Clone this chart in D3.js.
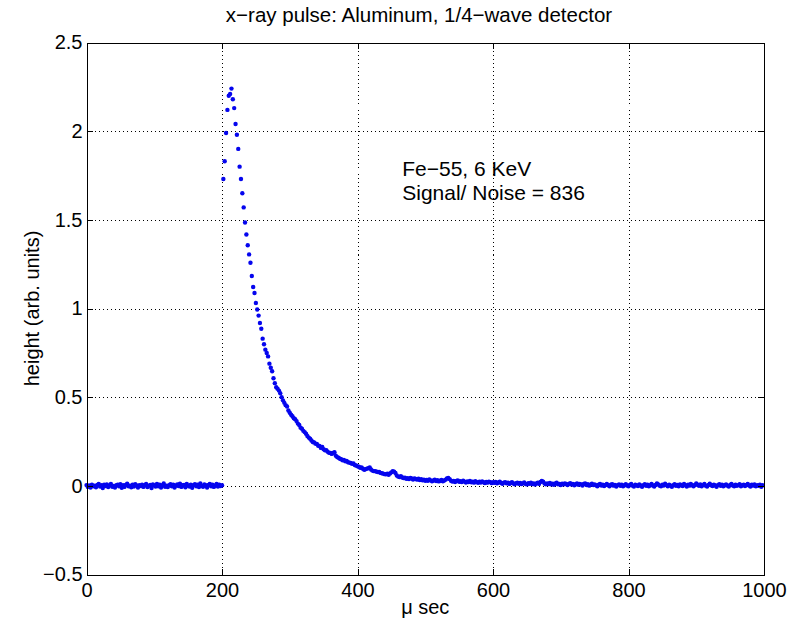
<!DOCTYPE html>
<html>
<head>
<meta charset="utf-8">
<script src="https://cdn.jsdelivr.net/npm/d3@7"></script>
<style>
  html, body { margin: 0; padding: 0; background: #ffffff; }
  svg { display: block; }
  text { font-family: "Liberation Sans", Arial, Helvetica, sans-serif; fill: #000; }
</style>
</head>
<body>
<svg id="chart" width="791" height="625"></svg>
<script>
// ---------------- data ----------------
const titleText = "x\u2212ray pulse: Aluminum, 1/4\u2212wave detector";
const xLabel = "\u03bc sec";
const yLabel = "height (arb. units)";
const noteLines = ["Fe\u221255, 6 KeV", "Signal/ Noise = 836"];

const xTicks = [0, 200, 400, 600, 800, 1000];
const yTicks = [-0.5, 0, 0.5, 1, 1.5, 2, 2.5];

const sampleStep = 2;                     // µs between samples
const segmentStarts = [0, 202, 234, 502]; // µs of first sample of each segment

// pre-trigger baseline, t = 0 .. 200
const preTrigger = [
  0.004,-0.006,0.002,-0.010,0.007,-0.003,0.001,-0.008,0.005,0.010,
  -0.004,0.003,-0.012,0.006,-0.001,0.008,-0.007,0.002,0.011,-0.005,
  0.000,-0.009,0.004,0.007,-0.002,0.009,-0.011,0.003,-0.006,0.005,
  0.012,-0.003,0.001,-0.008,0.006,-0.004,0.009,0.002,-0.010,0.004,
  -0.001,0.007,-0.006,0.003,0.010,-0.007,0.000,0.005,-0.012,0.008,
  0.002,-0.004,0.011,-0.002,0.006,-0.009,0.003,0.013,-0.005,0.001,
  -0.007,0.004,0.009,-0.003,0.006,-0.010,0.002,0.008,-0.001,0.012,
  -0.006,0.003,0.005,-0.008,0.010,0.001,-0.004,0.007,-0.011,0.004,
  0.009,-0.002,0.006,-0.007,0.013,0.000,-0.005,0.008,0.003,-0.009,
  0.005,0.011,-0.003,0.007,-0.006,0.002,0.010,-0.004,0.006,-0.001,
  0.003
];

// rise and peak, t = 202 .. 232
const pulseRise = [
  1.73,1.83,1.99,2.12,2.20,2.21,2.24,2.18,2.13,2.04,
  1.98,1.90,1.80,1.73,1.65,1.57
];

// decay, t = 234 .. 500
const pulseDecay = [
  1.485,1.417,1.357,1.305,1.258,1.183,1.121,1.087,1.031,0.994,
  0.960,0.918,0.886,0.830,0.798,0.768,0.749,0.730,0.689,0.666,
  0.646,0.607,0.579,0.556,0.548,0.537,0.522,0.500,0.482,0.468,
  0.455,0.447,0.425,0.412,0.401,0.392,0.381,0.376,0.365,0.351,
  0.343,0.328,0.322,0.310,0.303,0.294,0.281,0.272,0.266,0.256,
  0.247,0.245,0.238,0.236,0.226,0.225,0.214,0.219,0.206,0.200,
  0.201,0.192,0.186,0.185,0.180,0.186,0.190,0.170,0.162,0.158,
  0.153,0.150,0.144,0.146,0.139,0.140,0.133,0.131,0.129,0.124,
  0.126,0.117,0.115,0.110,0.108,0.102,0.104,0.096,0.091,0.094,
  0.097,0.100,0.103,0.092,0.086,0.083,0.083,0.080,0.078,0.078,
  0.073,0.071,0.069,0.066,0.065,0.068,0.062,0.070,0.076,0.083,
  0.080,0.072,0.058,0.052,0.050,0.055,0.047,0.044,0.046,0.040,
  0.043,0.038,0.045,0.041,0.036,0.042,0.039,0.035,0.040,0.033,
  0.037,0.031,0.034,0.029
];

// tail, t = 502 .. 998
const pulseTail = [
  0.033,0.028,0.036,0.031,0.026,0.030,0.034,0.027,0.032,0.025,
  0.029,0.033,0.026,0.030,0.035,0.041,0.045,0.038,0.029,0.024,
  0.028,0.022,0.027,0.031,0.023,0.026,0.021,0.029,0.024,0.019,
  0.025,0.022,0.028,0.020,0.024,0.018,0.026,0.021,0.017,0.023,
  0.019,0.025,0.020,0.016,0.022,0.018,0.024,0.021,0.015,0.020,
  0.017,0.022,0.014,0.019,0.023,0.016,0.012,0.018,0.021,0.014,
  0.017,0.011,0.016,0.020,0.013,0.009,0.015,0.018,0.012,0.016,
  0.010,0.014,0.019,0.011,0.008,0.015,0.012,0.017,0.010,0.013,
  0.007,0.014,0.018,0.011,0.022,0.028,0.024,0.013,0.009,0.014,
  0.010,0.016,0.008,0.012,0.006,0.013,0.017,0.009,0.011,0.005,
  0.012,0.008,0.014,0.010,0.004,0.011,0.015,0.007,0.010,0.003,
  0.009,0.013,0.006,0.011,0.008,0.002,0.010,0.014,0.005,0.009,
  0.001,0.007,0.012,0.004,0.008,0.003,-0.002,0.006,0.011,0.002,
  0.007,-0.001,0.005,0.010,0.003,-0.003,0.006,0.009,0.001,0.005,
  -0.004,0.004,0.008,0.000,0.006,-0.002,0.003,0.009,0.002,-0.003,
  0.005,0.010,0.001,-0.004,0.006,0.003,-0.001,0.008,0.002,-0.005,
  0.004,0.009,0.000,0.006,-0.003,0.003,0.011,0.002,-0.004,0.005,
  0.014,0.008,0.001,-0.003,0.006,0.002,0.012,0.004,-0.002,0.007,
  0.001,-0.005,0.004,0.009,0.000,0.005,-0.003,0.008,0.003,-0.001,
  0.010,0.004,-0.004,0.006,0.001,0.011,0.003,-0.003,0.005,0.013,
  0.006,0.000,0.008,-0.002,0.004,0.010,0.001,-0.004,0.005,0.012,
  0.003,-0.001,0.007,0.002,-0.005,0.004,0.009,0.000,0.006,-0.003,
  0.003,0.008,0.001,-0.004,0.005,0.010,0.002,-0.002,0.006,0.000,
  0.004,0.009,-0.003,0.003,0.007,-0.001,0.005,0.011,0.002,-0.004,
  0.006,0.001,0.008,-0.002,0.004,0.000,0.007,-0.005,0.003
];

// ---------------- build points ----------------
const segments = [preTrigger, pulseRise, pulseDecay, pulseTail];
const points = [];
segments.forEach((vals, s) => {
  vals.forEach((v, i) => points.push({ t: segmentStarts[s] + i * sampleStep, v }));
});

// ---------------- layout ----------------
const svg = d3.select("#chart");
const plot = { left: 86.5, right: 764, top: 42.5, bottom: 574.5 };

const x = d3.scaleLinear().domain([0, 1000]).range([plot.left, plot.right]);
const y = d3.scaleLinear().domain([-0.5, 2.5]).range([plot.bottom, plot.top]);

svg.append("rect").attr("width", 791).attr("height", 625).attr("fill", "#fff");

// grid
const grid = svg.append("g").attr("stroke", "#000").attr("stroke-width", 1)
  .attr("stroke-dasharray", "1,3").attr("shape-rendering", "crispEdges");
grid.selectAll("line.gx").data(xTicks.filter(d => d > 0 && d < 1000)).join("line")
  .attr("x1", d => Math.round(x(d)) + 0.5).attr("x2", d => Math.round(x(d)) + 0.5)
  .attr("y1", plot.top).attr("y2", plot.bottom);
grid.selectAll("line.gy").data(yTicks.filter(d => d > -0.5 && d < 2.5)).join("line")
  .attr("y1", d => Math.round(y(d)) + 0.5).attr("y2", d => Math.round(y(d)) + 0.5)
  .attr("x1", plot.left).attr("x2", plot.right);

// data points
svg.append("g").selectAll("circle").data(points).join("circle")
  .attr("cx", d => x(d.t)).attr("cy", d => y(d.v)).attr("r", 2.2)
  .attr("fill", "#0505ee");

// axes (MATLAB-style: inward ticks, boxed)
const tickLen = 6;
const fontSize = 20;
const xAxis = d3.axisBottom(x).tickValues(xTicks).tickSize(-tickLen).tickPadding(8)
  .tickFormat(d3.format("d"));
const xAxisTop = d3.axisTop(x).tickValues(xTicks).tickSize(-tickLen).tickFormat("");
const yAxis = d3.axisLeft(y).tickValues(yTicks).tickSize(-tickLen).tickPadding(4)
  .tickFormat(d => d3.format(".1~f")(d).replace("-", "\u2212"));
const yAxisRight = d3.axisRight(y).tickValues(yTicks).tickSize(-tickLen).tickFormat("");

function styleAxis(g) {
  g.selectAll("path.domain").attr("stroke", "#000").attr("stroke-width", 1);
  g.selectAll(".tick line").attr("stroke", "#000").attr("stroke-width", 1);
  g.selectAll("text").attr("font-size", fontSize)
    .attr("font-family", "'Liberation Sans', Arial, sans-serif").attr("fill", "#000");
  g.attr("shape-rendering", "crispEdges");
}
svg.append("g").attr("transform", `translate(0,${plot.bottom})`).call(xAxis).call(styleAxis);
svg.append("g").attr("transform", `translate(0,${plot.top})`).call(xAxisTop).call(styleAxis);
svg.append("g").attr("transform", `translate(${plot.left},0)`).call(yAxis).call(styleAxis);
svg.append("g").attr("transform", `translate(${plot.right},0)`).call(yAxisRight).call(styleAxis);

// title and labels
svg.append("text").attr("x", 419).attr("y", 22)
  .attr("text-anchor", "middle").attr("font-size", 20.5).text(titleText);
svg.append("text").attr("x", (plot.left + plot.right) / 2).attr("y", 614)
  .attr("text-anchor", "middle").attr("font-size", 20).text(xLabel);
svg.append("text").attr("transform", `translate(39,${(plot.top + plot.bottom) / 2}) rotate(-90)`)
  .attr("text-anchor", "middle").attr("font-size", 20).text(yLabel);

// annotation
svg.append("g").selectAll("text").data(noteLines).join("text")
  .attr("x", x(466))
  .attr("y", (d, i) => y(1.745) + i * 24)
  .attr("font-size", 21).text(d => d);
</script>
</body>
</html>
